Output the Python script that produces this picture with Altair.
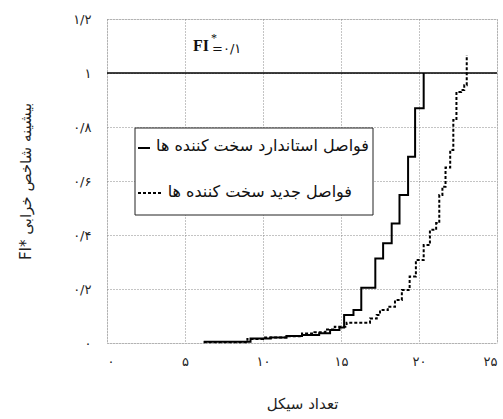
import altair as alt
import pandas as pd

# ---- data ----
standard_x = [6.2, 9.2, 10.5, 11.5, 12.5, 13.6, 14.3, 14.9, 15.2, 15.8, 16.3, 17.2, 17.7, 18.25, 18.75, 19.3, 19.75, 20.3]
standard_y = [0.005, 0.017, 0.02, 0.026, 0.03, 0.036, 0.048, 0.057, 0.104, 0.122, 0.205, 0.313, 0.369, 0.443, 0.548, 0.69, 0.869, 1.0]

new_x = [6.2, 9.0, 10.0, 11.5, 12.5, 13.3, 14.0, 14.6, 15.36, 16.86, 17.29, 17.5, 18.0, 18.46, 18.9, 19.4, 19.8, 20.3,
         20.7, 21.1, 21.3, 21.5, 21.7, 22.0, 22.2, 22.4, 22.7, 22.9, 23.06]
new_y = [0.003, 0.015, 0.02, 0.025, 0.035, 0.04, 0.05, 0.06, 0.075, 0.091, 0.104, 0.122, 0.134, 0.159, 0.196, 0.246, 0.307, 0.363,
         0.419, 0.444, 0.548, 0.579, 0.65, 0.715, 0.826, 0.93, 0.937, 0.955, 1.067]

series_names = ["فواصل استاندارد سخت کننده ها", "فواصل جدید سخت کننده ها"]

x_tick_values = [0, 5, 10, 15, 20, 25]
x_tick_labels = ["۰", "۵", "۱۰", "۱۵", "۲۰", "۲۵"]
y_tick_values = [0, 0.2, 0.4, 0.6, 0.8, 1.0, 1.2]
y_tick_labels = ["۰", "۰/۲", "۰/۴", "۰/۶", "۰/۸", "۱", "۱/۲"]

x_title = "تعداد سیکل"
y_title = "FI* بیشینه شاخص خرابی"
limit_value = [1.0]
fi_text = ["FI", "*", "=۰/۱"]

FONT = "DejaVu Sans"
SERIF = "Liberation Serif"

df = pd.concat([
    pd.DataFrame({"x": standard_x, "y": standard_y, "s": series_names[0]}),
    pd.DataFrame({"x": new_x, "y": new_y, "s": series_names[1]}),
])

def arr_expr(labels, step):
    arr = "[" + ",".join("'" + l + "'" for l in labels) + "]"
    return f"{arr}[round(datum.value / {step})]"

x_enc = alt.X("x:Q", scale=alt.Scale(domain=[0, 25], nice=False),
              axis=alt.Axis(values=x_tick_values, labelExpr=arr_expr(x_tick_labels, 5),
                            grid=True, gridDash=[1, 2], gridColor="#888", gridWidth=1,
                            domain=False, ticks=False, labelPadding=12,
                            labelFont=FONT, labelFontSize=13, labelColor="#222",
                            title=x_title, titleFont=FONT, titleFontSize=15,
                            titleFontWeight="normal", titleColor="#222",
                            titleBaseline="middle", titleX=195, titleY=60))
y_enc = alt.Y("y:Q", scale=alt.Scale(domain=[0, 1.2], nice=False),
              axis=alt.Axis(values=y_tick_values, labelExpr=arr_expr(y_tick_labels, 0.2),
                            grid=True, gridDash=[1, 2], gridColor="#888", gridWidth=1,
                            domain=False, ticks=False, labelPadding=16,
                            labelFont=FONT, labelFontSize=13, labelColor="#222",
                            title=y_title, titleFont=FONT, titleFontSize=15,
                            titleFontWeight="normal", titleColor="#222",
                            titleBaseline="middle", titleX=-82, titleY=162))

lines = alt.Chart(df).mark_line(interpolate="step-after", strokeWidth=2, color="black").encode(
    x=x_enc, y=y_enc,
    strokeDash=alt.StrokeDash("s:N", scale=alt.Scale(domain=series_names, range=[[1, 0], [3, 2]]), legend=None),
    detail="s:N",
)

limit = alt.Chart(pd.DataFrame({"v": limit_value})).mark_rule(color="black", strokeWidth=1.5).encode(y="v:Q")

legend_df = pd.DataFrame({"a": [0]})
box = alt.Chart(legend_df).mark_rect(fill="white", stroke="#222", strokeWidth=1).encode(
    x=alt.value(28), x2=alt.value(266), y=alt.value(109), y2=alt.value(196))
sample1 = alt.Chart(legend_df).mark_rule(color="black", strokeWidth=2).encode(
    x=alt.value(31), x2=alt.value(43), y=alt.value(129))
sample2 = alt.Chart(legend_df).mark_rule(color="black", strokeWidth=2, strokeDash=[3, 2]).encode(
    x=alt.value(31), x2=alt.value(56), y=alt.value(174))
txt1 = alt.Chart(legend_df).mark_text(text=series_names[0], font=FONT, fontSize=16, align="right",
                                       baseline="middle", color="#111").encode(x=alt.value(262), y=alt.value(127))
txt2 = alt.Chart(legend_df).mark_text(text=series_names[1], font=FONT, fontSize=16, align="right",
                                       baseline="middle", color="#111").encode(x=alt.value(245), y=alt.value(173))

fi1 = alt.Chart(legend_df).mark_text(text=fi_text[0], font=SERIF, fontSize=16, fontWeight="bold", align="left",
                                      baseline="middle", color="#111").encode(x=alt.value(86), y=alt.value(27))
fi2 = alt.Chart(legend_df).mark_text(text=fi_text[1], font=SERIF, fontSize=12, align="left",
                                      baseline="middle", color="#111").encode(x=alt.value(104), y=alt.value(19))
fi3 = alt.Chart(legend_df).mark_text(text=fi_text[2], font=FONT, fontSize=13, align="left",
                                      baseline="middle", color="#111").encode(x=alt.value(105), y=alt.value(30))

chart = alt.layer(lines, limit, box, sample1, sample2, txt1, txt2, fi1, fi2, fi3).properties(
    width=390, height=324,
    autosize=alt.AutoSizeParams(type="none"),
    padding={"left": 107, "top": 19, "right": 6, "bottom": 76},
).configure_view(stroke="black", strokeWidth=1.5).configure(background="white")

chart.save("out.html", embed_options={"renderer": "svg", "actions": False})
